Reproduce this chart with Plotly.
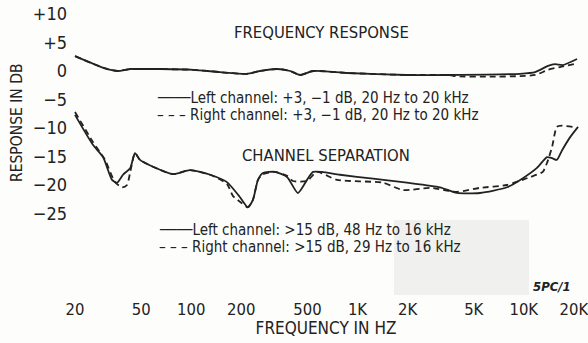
import plotly.graph_objects as go

# Frequency response (dB) vs frequency (Hz)
fr_freq_left = [20, 30, 36, 43, 48, 65, 103, 149, 216, 259, 328, 393, 451, 540, 865,
                1980, 3600, 9480, 11700, 14000, 15400, 17200, 20900]
fr_left = [2.6, 0.5, 0.0, 0.35, 0.35, 0.35, 0.2, -0.2, -0.5, 0.0, 0.35, 0.0, -0.7, 0.0, -0.35,
           -0.7, -0.7, -0.5, -0.2, 0.9, 1.2, 1.05, 2.1]
fr_freq_right = [20, 30, 36, 43, 48, 65, 103, 149, 216, 259, 328, 393, 451, 540, 865,
                 1980, 3600, 3860, 6250, 9480, 11700, 14000, 16500, 20900]
fr_right = [2.6, 0.5, 0.0, 0.35, 0.35, 0.35, 0.2, -0.2, -0.5, 0.0, 0.35, 0.0, -0.7, 0.0, -0.35,
            -0.7, -0.7, -0.9, -1.0, -0.9, -0.7, 0.2, 0.7, 1.3]

# Channel separation (dB) vs frequency (Hz)
sep_freq_left = [20, 25.7, 29.5, 33.4, 35.8, 38.9, 43, 45.9, 49.2, 58.9,
                 77.6, 98.3, 130, 164, 196, 219, 235, 252, 270, 319,
                 377, 438, 497, 540, 611, 784, 1240, 1980, 3130, 3960,
                 5450, 7920, 9880, 12000, 13800, 14800, 15800, 17000, 19000, 21200]
sep_left = [-7.7, -13.0, -15.1, -19.1, -19.6, -18.2, -17.0, -14.4, -15.6, -16.8,
            -18.1, -17.4, -18.2, -19.5, -22.1, -23.9, -22.6, -19.1, -17.9, -17.7,
            -18.6, -21.4, -19.1, -17.7, -17.7, -18.2, -18.9, -19.6, -20.4, -21.4,
            -21.4, -20.4, -18.8, -17.0, -15.1, -15.3, -15.6, -13.9, -11.6, -9.8]
sep_freq_right = [20, 25.7, 30.3, 34.8, 38.4, 41.1, 43, 45.9, 49.2, 58.9,
                  77.6, 98.3, 130, 164, 178, 202, 219, 235, 252, 270,
                  319, 377, 409, 497, 570, 752, 1420, 1880, 2730, 3960,
                  5450, 7920, 10900, 13000, 13800, 14800, 15800, 17000, 19800]
sep_right = [-7.2, -12.5, -15.6, -19.5, -20.4, -20.0, -17.7, -14.4, -15.6, -16.8,
             -18.1, -17.4, -18.2, -19.8, -21.9, -23.2, -23.9, -22.6, -19.1, -18.1,
             -17.7, -18.4, -19.3, -19.3, -17.7, -19.1, -19.6, -20.9, -20.5, -21.2,
             -20.5, -20.0, -18.6, -17.7, -16.1, -13.3, -9.8, -9.6, -9.8]

x_tick_vals = [20, 50, 100, 200, 500, 1000, 2000, 5000, 10000, 20000]
x_tick_text = ["20", "50", "100", "200", "500", "1K", "2K", "5K", "10K", "20K"]
y_tick_vals = [10, 5, 0, -5, -10, -15, -20, -25]
y_tick_text = ["+10", "+5", "0", "\u22125", "\u221210", "\u221215", "\u221220", "\u221225"]

# Key text for each pair of curves
SOLID_KEY = "\u2500\u2500\u2500\u2500"
DASH_KEY = "\u2013 \u2013 \u2013 "
fr_key = [SOLID_KEY + "Left channel: +3, \u22121 dB, 20 Hz to 20 kHz",
          DASH_KEY + "Right channel: +3, \u22121 dB, 20 Hz to 20 kHz"]
sep_key = [SOLID_KEY + "Left channel: >15 dB, 48 Hz to 16 kHz",
           DASH_KEY + "Right channel: >15 dB, 29 Hz to 16 kHz"]

FONT = "DejaVu Sans Condensed, Liberation Sans Narrow, sans-serif"
INK = "#222222"
BG = "#fdfdfb"

# plot-area geometry (px) used to place paper-referenced text
L, R, T, B = 68, 4, 5, 46
W, H = 588, 343
PW, PH = W - L - R, H - T - B


def px(xp):
    return (xp - L) / PW


def py(yp):
    return (H - B - yp) / PH


fig = go.Figure()


def curve(x, y, dash):
    return go.Scatter(
        x=x, y=y, mode="lines", showlegend=False,
        line=dict(color=INK, width=1.8, dash=dash, shape="spline", smoothing=0.6),
        hoverinfo="skip",
    )


fig.add_trace(curve(fr_freq_left, fr_left, "solid"))
fig.add_trace(curve(fr_freq_right, fr_right, "6px,4px"))
fig.add_trace(curve(sep_freq_left, sep_left, "solid"))
fig.add_trace(curve(sep_freq_right, sep_right, "6px,4px"))


def text(t, x, y, size, xanchor="center", angle=0):
    return dict(text=t, x=x, y=y, xref="paper", yref="paper", showarrow=False,
                xanchor=xanchor, yanchor="middle", textangle=angle,
                font=dict(family=FONT, size=size, color=INK))


annotations = [
    text("FREQUENCY RESPONSE", px(321), py(32), 16.5),
    text("CHANNEL SEPARATION", px(326), py(155), 16.5),
    text("<b><i>5PC/1</i></b>", px(552), py(286), 13),
    text("RESPONSE IN DB", px(17), py(123), 15.5, angle=-90),
    text(fr_key[0], px(155), py(98), 15, "left"),
    text(fr_key[1], px(155), py(115), 15, "left"),
    text(sep_key[0], px(157), py(230), 15, "left"),
    text(sep_key[1], px(157), py(247), 15, "left"),
]

fig.update_layout(
    width=W, height=H,
    margin=dict(l=L, r=R, t=T, b=B, autoexpand=False),
    paper_bgcolor=BG, plot_bgcolor=BG,
    font=dict(family=FONT, color=INK),
    showlegend=False,
    xaxis=dict(
        type="log", range=[1.259, 4.362], automargin=False,
        tickvals=x_tick_vals, ticktext=x_tick_text,
        tickfont=dict(family=FONT, size=16.5, color=INK),
        ticklabeloverflow="allow",
        showgrid=False, zeroline=False, showline=False, ticks="",
        title=dict(text="FREQUENCY IN HZ", font=dict(family=FONT, size=17, color=INK),
                   standoff=2),
    ),
    yaxis=dict(
        range=[-39.65, 11.58], automargin=False,
        tickvals=y_tick_vals, ticktext=y_tick_text,
        tickfont=dict(family=FONT, size=18, color=INK),
        showgrid=False, zeroline=False, showline=False, ticks="",
    ),
    shapes=[
        dict(type="rect", xref="paper", yref="paper",
             x0=px(394), x1=px(529), y0=py(295), y1=py(220),
             fillcolor="#f0f0ee", line=dict(width=0), layer="below"),
    ],
    annotations=annotations,
)

fig.write_html("out.html")
